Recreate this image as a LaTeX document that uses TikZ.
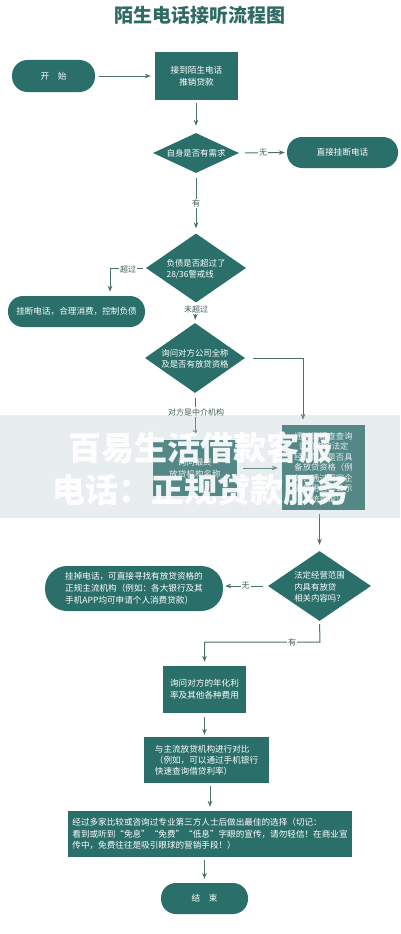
\documentclass[tikz,border=0pt]{standalone}
\usepackage{fontspec}
\setmainfont{Noto Sans CJK SC}
\usetikzlibrary{shapes.geometric,arrows.meta}
\definecolor{tealf}{HTML}{2A6F6A}
\definecolor{titlec}{HTML}{2F6A65}
\definecolor{linec}{HTML}{4A716E}
\definecolor{lblc}{HTML}{3C5E5B}
\definecolor{bandc}{HTML}{B4C4CB}
\begin{document}
\begin{tikzpicture}[x=1pt,y=-1pt,
  box/.style={rectangle, fill=tealf, text=white, inner sep=0pt, align=center,
    font=\fontsize{8.6}{12}\selectfont},
  pill/.style={box},
  dia/.style={diamond, fill=tealf, inner sep=0pt},
  dtext/.style={text=white, inner sep=0pt, font=\fontsize{8.4}{11.5}\selectfont},
  lbl/.style={fill=white, text=lblc, inner sep=1pt, font=\fontsize{8}{10}\selectfont},
  conn/.style={draw=linec, line width=1pt, -{Stealth[length=6pt,width=4.6pt]}, shorten <=4pt, shorten >=4pt},
  line/.style={draw=linec, line width=1pt}
]
\useasboundingbox (0,0) rectangle (400,934);

% title
\node[text=titlec, font=\fontsize{19}{22}\selectfont\bfseries] (title) at (200,15) {陌生电话接听流程图};

% nodes
\node[pill, minimum width=83pt, minimum height=32pt, rounded corners=15.5pt] (start) at (53.5,76) {开　始};
\node[box, minimum width=83pt, minimum height=48pt] (b1) at (196.5,76) {接到陌生电话\\推销贷款};

\node[dia, minimum width=86pt, minimum height=40pt] (d1) at (196,153) {};
\node[dtext] at (d1) {自身是否有需求};
\node[pill, minimum width=111pt, minimum height=31pt, rounded corners=15pt] (hang1) at (342.5,152.5) {直接挂断电话};

\node[dia, minimum width=100pt, minimum height=69pt] (d2) at (196,268) {};
\node[dtext, align=left] at ([yshift=-1pt]d2.center) {负债是否超过了\\28/36警戒线};
\node[pill, minimum width=137pt, minimum height=31pt, rounded corners=15pt] (hang2) at (76.5,311.5) {挂断电话，合理消费，控制负债};

\node[dia, minimum width=100pt, minimum height=70pt] (d3) at (195,358) {};
\node[dtext, align=center] at ([yshift=-1pt]d3.center) {询问对方公司全称\\及是否有放贷资格};

\node[box, minimum width=84pt, minimum height=56pt] (lbox) at (195,468) {询问最终\\放贷机构名称};
\node[box, minimum width=83pt, minimum height=85pt, font=\fontsize{8.3}{10.5}\selectfont] (rbox) at (323.5,467.5)
  {通过天眼查查询\\该机构的法定\\经营范围是否具\\备放贷资格（例\\如：通过国家企\\业信用信息公示\\系统查询）};

\node[dia, minimum width=103pt, minimum height=70pt] (d4) at (319.5,586) {};
\node[dtext, align=left] at ([yshift=-1pt]d4.center) {法定经营范围\\内具有放贷\\相关内容吗？};
\node[pill, minimum width=178pt, minimum height=45pt, rounded corners=22pt, align=left] (hang3) at (134,588.5)
  {挂掉电话，可直接寻找有放贷资格的\\正规主流机构（例如：各大银行及其\\手机APP均可申请个人消费贷款）};

\node[box, minimum width=83pt, minimum height=47pt] (b3) at (204.5,689.5) {询问对方的年化利\\率及其他各种费用};
\node[box, minimum width=125pt, minimum height=46pt, align=left, font=\fontsize{8.6}{11}\selectfont] (b4) at (206.5,760)
  {与主流放贷机构进行对比\\（例如，可以通过手机银行\\快速查询借贷利率）};
\node[box, minimum width=284pt, minimum height=46pt, align=left, font=\fontsize{8.6}{11.5}\selectfont] (b5) at (210,834)
  {经过多家比较或咨询过专业第三方人士后做出最佳的选择（切记：\\看到或听到“免息”“免费”“低息”字眼的宣传，请勿轻信！在商业宣\\传中，免费往往是吸引眼球的营销手段！）};
\node[pill, minimum width=87pt, minimum height=31pt, rounded corners=15pt] (end) at (204.5,898.5) {结　束};

% connectors
\draw[conn] (start) -- (b1);
\draw[conn, shorten <=3pt, shorten >=7pt] (b1.south -| d1.north) -- (d1.north);
\draw[conn, shorten <=6pt, shorten >=2pt] (d1.east) -- node[lbl] {无} (hang1.west);
\draw[conn, shorten <=5pt, shorten >=5pt] (d1.south) -- node[lbl] {有} (d2.north);

\coordinate (c2) at (110,268);
\draw[conn, shorten <=3pt] (d2.west) -- (c2) -- (c2 |- hang2.north);
\node[lbl] at (128,269.5) {超过};

\draw[conn, shorten <=2pt, shorten >=3pt] (d2.south) -- (d3.north);
\node[lbl] at (196,309) {未超过};

\coordinate (c1) at (303,358);
\draw[conn, shorten <=8pt, shorten >=5pt] (d3.east) -- (c1) -- (c1 |- rbox.north);

\draw[conn, shorten <=5pt, shorten >=4pt] (d3.south) -- (d3.south |- lbox.north);
\node[lbl] at (196,412) {对方是中介机构};

\draw[conn, shorten <=6pt, shorten >=4pt] (lbox.east) -- (lbox.east -| rbox.west);
\draw[conn, shorten <=4pt, shorten >=6pt] (rbox.south -| d4.north) -- (d4.north);
\draw[conn, shorten <=5pt, shorten >=2pt] (d4.west) -- node[lbl] {无} (d4.west -| hang3.east);

\coordinate (c3) at (320,642);
\draw[conn, shorten <=3pt, shorten >=4pt] (d4.south) -- (c3) -| (b3.north);
\node[lbl] at (292,642) {有};

\draw[conn, shorten <=4pt, shorten >=2pt] (b3.south) -- (b3.south |- b4.north);
\draw[conn, shorten <=3pt, shorten >=4pt] (b4.south -| b5.north) -- (b5.north);
\draw[conn, shorten <=3pt, shorten >=4pt] (b5.south -| end.north) -- (end.north);

% watermark overlay
\fill[bandc, opacity=0.3] (0,415) rectangle (400,518);
\node[text=white, opacity=0.92, font=\fontsize{33}{36}\selectfont\bfseries] (wm1) at (200,448) {百易生活借款客服};
\node[text=white, opacity=0.92, font=\fontsize{33}{36}\selectfont\bfseries] (wm2) at (201,490) {电话：正规贷款服务};
\end{tikzpicture}
\end{document}
